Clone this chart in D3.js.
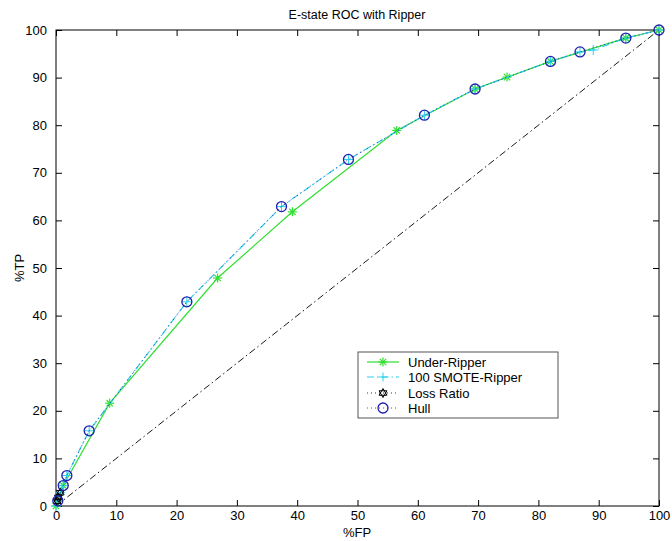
<!DOCTYPE html>
<html><head><meta charset="utf-8">
<script src="https://cdn.jsdelivr.net/npm/d3@7"></script>
<style>body{margin:0;background:#fff}svg{display:block}text{font-family:"Liberation Sans",Arial,sans-serif;fill:#000}</style>
</head><body><svg id="c" width="672" height="541"></svg>
<script>
const underFP = [0, 0.3, 1.2, 8.9, 26.8, 39.2, 56.5, 69.5, 74.8, 82.0, 94.5, 100];
const underTP = [0, 1.1, 4.3, 21.6, 47.9, 61.8, 78.9, 87.6, 90.1, 93.4, 98.3, 100];
const smoteFP = [0, 0.3, 0.7, 1.2, 1.8, 5.5, 21.7, 37.4, 48.5, 61.1, 69.5, 82.0, 86.9, 89.1, 94.5, 100];
const smoteTP = [0, 1.1, 2.8, 4.3, 6.4, 15.8, 42.9, 62.9, 72.8, 82.1, 87.6, 93.4, 95.4, 95.8, 98.3, 100];
const lossFP = [0.2, 0.4, 0.7];
const lossTP = [1.0, 1.8, 2.8];
const hullFP = [0.3, 1.2, 1.8, 5.5, 21.7, 37.4, 48.5, 61.1, 69.5, 82.0, 86.9, 94.5, 100];
const hullTP = [1.1, 4.3, 6.4, 15.8, 42.9, 62.9, 72.8, 82.1, 87.6, 93.4, 95.4, 98.3, 100];
const diagFP = [0, 100];
const diagTP = [0, 100];
const xTicks = [0,10,20,30,40,50,60,70,80,90,100];
const yTicks = [0,10,20,30,40,50,60,70,80,90,100];
const seriesNames = ["Under-Ripper","100 SMOTE-Ripper","Loss Ratio","Hull"];
const title = "E-state ROC with Ripper";

const L=56,R=659,T=30,B=506;
const svg=d3.select("#c");
const x=d3.scaleLinear().domain([0,100]).range([L,R]);
const y=d3.scaleLinear().domain([0,100]).range([B,T]);
const zip=(a,b)=>a.map((v,i)=>[v,b[i]]);
const line=d3.line().x(d=>x(d[0])).y(d=>y(d[1]));

const GREEN="#2fe02f", CYAN="#2ad0ea", BLUE="#2020b0";

// axes with inward ticks
const ax=svg.append("g");
ax.append("g").attr("transform",`translate(0,${B})`).call(d3.axisBottom(x).tickValues(xTicks).tickSizeInner(-6).tickSizeOuter(0).tickPadding(5));
ax.append("g").attr("transform",`translate(${L},0)`).call(d3.axisLeft(y).tickValues(yTicks).tickSizeInner(-6).tickSizeOuter(0).tickPadding(9));
ax.append("g").attr("transform",`translate(0,${T})`).call(d3.axisTop(x).tickValues(xTicks).tickSizeInner(-6).tickSizeOuter(0).tickFormat(""));
ax.append("g").attr("transform",`translate(${R},0)`).call(d3.axisRight(y).tickValues(yTicks).tickSizeInner(-6).tickSizeOuter(0).tickFormat(""));
ax.selectAll(".domain").remove();
ax.selectAll("text").style("font-size","13px").style("font-family","'Liberation Sans',Arial,sans-serif");
ax.selectAll("line").attr("stroke","#000");
svg.append("rect").attr("x",L).attr("y",T).attr("width",R-L).attr("height",B-T).attr("fill","none").attr("stroke","#000");

// diagonal
svg.append("path").datum(zip(diagFP,diagTP)).attr("d",line).attr("fill","none").attr("stroke","#000").attr("stroke-width",0.9).attr("stroke-dasharray","7,3,1.5,3");

function asterisk(g,cx,cy,col,s){
  for(let k=0;k<4;k++){const a=k*Math.PI/4;g.append("line").attr("x1",cx-s*Math.cos(a)).attr("y1",cy-s*Math.sin(a)).attr("x2",cx+s*Math.cos(a)).attr("y2",cy+s*Math.sin(a)).attr("stroke",col).attr("stroke-width",1.2);}
}
function plus(g,cx,cy,col,s){
  g.append("line").attr("x1",cx-s).attr("y1",cy).attr("x2",cx+s).attr("y2",cy).attr("stroke",col).attr("stroke-width",1);
  g.append("line").attr("x1",cx).attr("y1",cy-s).attr("x2",cx).attr("y2",cy+s).attr("stroke",col).attr("stroke-width",1);
}
function hexagram(g,cx,cy,col,s){
  const tri=o=>d3.range(3).map(i=>{const a=o+i*2*Math.PI/3-Math.PI/2;return [cx+s*Math.cos(a),cy+s*Math.sin(a)];});
  g.append("polygon").attr("points",tri(0).join(" ")).attr("fill","none").attr("stroke",col).attr("stroke-width",1);
  g.append("polygon").attr("points",tri(Math.PI/3).join(" ")).attr("fill","none").attr("stroke",col).attr("stroke-width",1);
}
function circ(g,cx,cy,col,r){g.append("circle").attr("cx",cx).attr("cy",cy).attr("r",r).attr("fill","none").attr("stroke",col).attr("stroke-width",1.3);}

// Under-Ripper
const gU=svg.append("g");
gU.append("path").datum(zip(underFP,underTP)).attr("d",line).attr("fill","none").attr("stroke",GREEN).attr("stroke-width",1.2);
zip(underFP,underTP).forEach(d=>asterisk(gU,x(d[0]),y(d[1]),GREEN,4.5));
// SMOTE
const gS=svg.append("g");
gS.append("path").datum(zip(smoteFP,smoteTP)).attr("d",line).attr("fill","none").attr("stroke",CYAN).attr("stroke-width",1.2).attr("stroke-dasharray","7,3,1.5,3");
zip(smoteFP,smoteTP).forEach(d=>plus(gS,x(d[0]),y(d[1]),CYAN,5));
// Loss ratio
const gL=svg.append("g");
gL.append("path").datum(zip(lossFP,lossTP)).attr("d",line).attr("fill","none").attr("stroke","#000").attr("stroke-width",0.8).attr("stroke-dasharray","1,3");
zip(lossFP,lossTP).forEach(d=>hexagram(gL,x(d[0]),y(d[1]),"#000",4.5));
// Hull
const gH=svg.append("g");
gH.append("path").datum(zip(hullFP,hullTP)).attr("d",line).attr("fill","none").attr("stroke",BLUE).attr("stroke-width",0.8).attr("stroke-dasharray","1,3");
zip(hullFP,hullTP).forEach(d=>circ(gH,x(d[0]),y(d[1]),BLUE,5));

// Title & labels
svg.append("text").attr("x",357).attr("y",19).attr("text-anchor","middle").style("font-size","12.5px").text(title);
svg.append("text").attr("x",357).attr("y",537).attr("text-anchor","middle").style("font-size","13px").text("%FP");
svg.append("text").attr("transform","translate(24,268) rotate(-90)").attr("text-anchor","middle").style("font-size","13px").text("%TP");

// Legend
const lg=svg.append("g");
lg.append("rect").attr("x",358).attr("y",352).attr("width",200).attr("height",66).attr("fill","#fff").attr("stroke","#555");
const rows=[362,377,393,408];
const sty=[
 {c:GREEN,da:null,m:asterisk},
 {c:CYAN,da:"7,3,1.5,3",m:plus},
 {c:"#000",da:"1,3",m:hexagram},
 {c:BLUE,da:"1,3",m:circ}];
seriesNames.forEach((n,i)=>{
  const yy=rows[i];
  lg.append("line").attr("x1",367).attr("x2",399).attr("y1",yy).attr("y2",yy).attr("stroke",sty[i].c).attr("stroke-width",i<2?1.2:0.8).attr("stroke-dasharray",sty[i].da);
  sty[i].m(lg,383,yy,sty[i].c,i===3?5:4.5);
  lg.append("text").attr("x",408).attr("y",yy+4.5).style("font-size","13px").text(n);
});
</script></body></html>
